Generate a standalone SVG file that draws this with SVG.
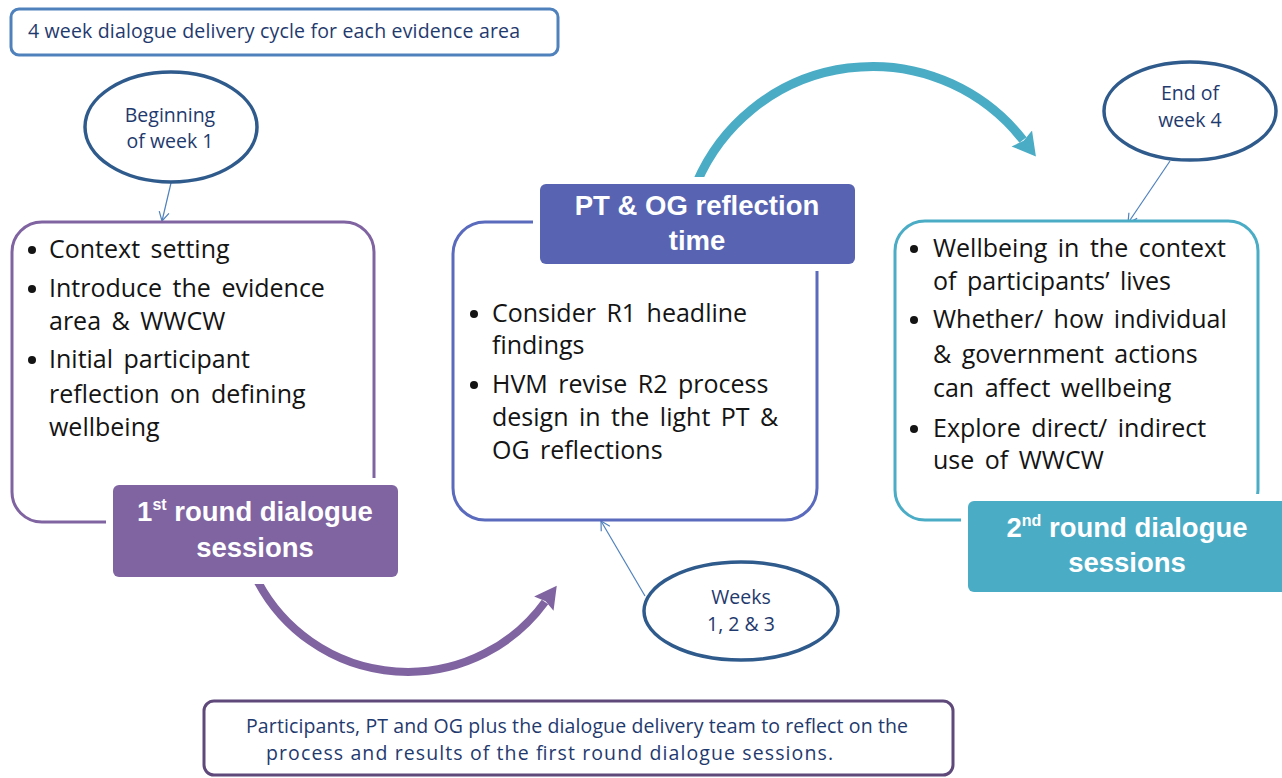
<svg xmlns="http://www.w3.org/2000/svg" width="1282" height="778" viewBox="0 0 1282 778">
<style>
.body{font-family:"Open Sans","Liberation Sans",sans-serif;font-size:25px;fill:#141414;word-spacing:4px}
.small{font-family:"Open Sans","Liberation Sans",sans-serif;font-size:19.5px;fill:#1f3a6e}
.lbl{font-family:"Liberation Sans",Arial,sans-serif;font-size:27.5px;font-weight:bold;fill:#ffffff}
.ell{fill:#ffffff;stroke:#2f5a8c;stroke-width:3.5}
.thin{fill:none;stroke:#4f81bd;stroke-width:1.2}
.bul{fill:#141414}
.gap{fill:#ffffff}
</style>
<defs>
<marker id="open" viewBox="-10 -6 11 12" refX="0" refY="0" markerWidth="11" markerHeight="12" markerUnits="userSpaceOnUse" orient="auto">
<path d="M-9,-5 L0,0 L-9,5" fill="none" stroke="#4f81bd" stroke-width="1.2"/>
</marker>
<marker id="tealHead" viewBox="0 -14 24 28" refX="2" refY="0" markerWidth="24" markerHeight="28" markerUnits="userSpaceOnUse" orient="auto">
<path d="M0,-13 L23,0 L0,13 L3,0 Z" fill="#4bacc6"/>
</marker>
<marker id="purpHead" viewBox="0 -13 24 26" refX="2" refY="0" markerWidth="24" markerHeight="26" markerUnits="userSpaceOnUse" orient="auto">
<path d="M0,-12 L22,0 L0,12 L3,0 Z" fill="#8064a2"/>
</marker>
</defs>

<g id="title">
<rect x="11" y="9" width="547" height="46" rx="8" fill="#ffffff" stroke="#4f81bd" stroke-width="3"/>
<text class="small" x="28" y="38" textLength="492" lengthAdjust="spacing">4 week dialogue delivery cycle for each evidence area</text>
</g>

<g id="connectors">
<path d="M697,182 A191,191 0 0 1 1023,140" fill="none" stroke="#4bacc6" stroke-width="9" marker-end="url(#tealHead)"/>
<path d="M258,582 A169.7,169.7 0 0 0 545,602" fill="none" stroke="#8064a2" stroke-width="8" marker-end="url(#purpHead)"/>
<line class="thin" x1="171" y1="183" x2="162" y2="221" marker-end="url(#open)"/>
<line class="thin" x1="1170" y1="161" x2="1128" y2="223" marker-end="url(#open)"/>
<line class="thin" x1="645" y1="596" x2="601" y2="521" marker-end="url(#open)"/>
</g>

<g id="begin-week1">
<ellipse class="ell" cx="171" cy="127" rx="86" ry="55"/>
<text class="small" x="170" y="122" text-anchor="middle">Beginning</text>
<text class="small" x="170" y="148" text-anchor="middle">of week 1</text>
</g>

<g id="end-week4">
<ellipse class="ell" cx="1190" cy="111" rx="86" ry="49"/>
<text class="small" x="1190" y="100" text-anchor="middle">End of</text>
<text class="small" x="1190" y="127" text-anchor="middle">week 4</text>
</g>

<g id="weeks123">
<ellipse class="ell" cx="741" cy="611" rx="97" ry="49"/>
<text class="small" x="741" y="604" text-anchor="middle">Weeks</text>
<text class="small" x="741" y="631" text-anchor="middle">1, 2 &amp; 3</text>
</g>

<g id="round1">
<rect x="12" y="222" width="362" height="300" rx="30" fill="#ffffff" stroke="#8064a2" stroke-width="3"/>
<circle class="bul" cx="32" cy="250" r="4"/>
<text class="body" x="49" y="258">Context setting</text>
<circle class="bul" cx="32" cy="289" r="4"/>
<text class="body" x="49" y="297">Introduce the evidence</text>
<text class="body" x="49" y="330">area &amp; WWCW</text>
<circle class="bul" cx="32" cy="360" r="4"/>
<text class="body" x="49" y="368">Initial participant</text>
<text class="body" x="49" y="403">reflection on defining</text>
<text class="body" x="49" y="436">wellbeing</text>
<rect class="gap" x="106" y="478" width="299" height="106" rx="8"/>
<rect x="113" y="485" width="285" height="92" rx="6" fill="#8064a2"/>
<text class="lbl" x="255" y="521" text-anchor="middle">1<tspan font-size="16" dy="-11">st</tspan><tspan dy="11"> round dialogue</tspan></text>
<text class="lbl" x="255" y="557" text-anchor="middle">sessions</text>
</g>

<g id="reflection">
<rect x="453" y="222" width="364" height="298" rx="32" fill="#ffffff" stroke="#5a6abd" stroke-width="3"/>
<circle class="bul" cx="474" cy="314" r="4"/>
<text class="body" x="492" y="322">Consider R1 headline</text>
<text class="body" x="492" y="354">findings</text>
<circle class="bul" cx="474" cy="385" r="4"/>
<text class="body" x="492" y="393">HVM revise R2 process</text>
<text class="body" x="492" y="426">design in the light PT &amp;</text>
<text class="body" x="492" y="459">OG reflections</text>
<rect class="gap" x="533" y="177" width="329" height="94" rx="8"/>
<rect x="540" y="184" width="315" height="80" rx="6" fill="#5864b1"/>
<text class="lbl" x="697" y="215" text-anchor="middle">PT &amp; OG reflection</text>
<text class="lbl" x="697" y="250" text-anchor="middle">time</text>
</g>

<g id="round2">
<rect x="895" y="221" width="363" height="299" rx="30" fill="#ffffff" stroke="#4bacc6" stroke-width="3"/>
<circle class="bul" cx="914" cy="249" r="4"/>
<text class="body" x="933" y="257">Wellbeing in the context</text>
<text class="body" x="933" y="290">of participants’ lives</text>
<circle class="bul" cx="914" cy="320" r="4"/>
<text class="body" x="933" y="328">Whether/ how individual</text>
<text class="body" x="933" y="363">&amp; government actions</text>
<text class="body" x="933" y="397">can affect wellbeing</text>
<circle class="bul" cx="914" cy="429" r="4"/>
<text class="body" x="933" y="437">Explore direct/ indirect</text>
<text class="body" x="933" y="469">use of WWCW</text>
<rect class="gap" x="961" y="494" width="330" height="105" rx="8"/>
<rect x="968" y="501" width="320" height="91" rx="6" fill="#4bacc6"/>
<text class="lbl" x="1127" y="537" text-anchor="middle">2<tspan font-size="16" dy="-11">nd</tspan><tspan dy="11"> round dialogue</tspan></text>
<text class="lbl" x="1127" y="572" text-anchor="middle">sessions</text>
</g>

<g id="reflect-note">
<rect x="204" y="701" width="749" height="74" rx="10" fill="#ffffff" stroke="#5f497a" stroke-width="3"/>
<text class="small" x="246" y="733" font-size="18" textLength="662" lengthAdjust="spacing">Participants, PT and OG plus the dialogue delivery team to reflect on the</text>
<text class="small" x="266" y="760" font-size="18" textLength="567" lengthAdjust="spacing">process and results of the  first round dialogue sessions.</text>
</g>
</svg>
